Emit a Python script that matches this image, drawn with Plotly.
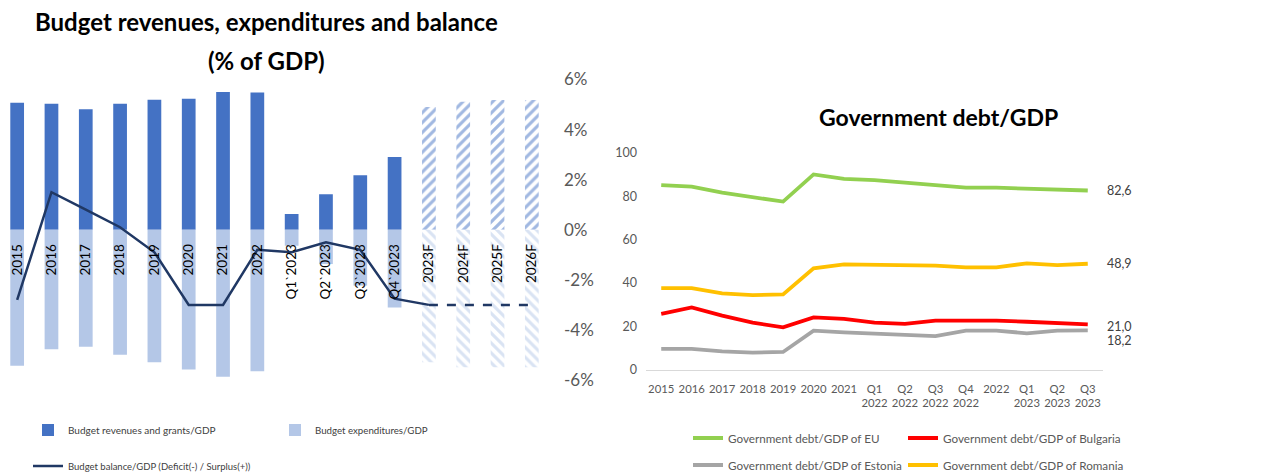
import plotly.graph_objects as go

# ---------------- Left chart data ----------------
budget_cats = ["2015", "2016", "2017", "2018", "2019", "2020", "2021", "2022",
               "Q1`2023", "Q2`2023", "Q3`2023", "Q4`2023"]
forecast_cats = ["2023F", "2024F", "2025F", "2026F"]
revenues = [38.9, 38.6, 36.9, 38.6, 39.8, 40.1, 42.2, 42.0, 4.8, 10.9, 16.7, 22.3]
expenditures = [-41.6, -36.6, -35.8, -38.3, -40.6, -42.8, -45.0, -43.3, -4.9, -10.5, -17.1, -23.8]
revenues_f = [37.6, 39.2, 39.7, 39.7]
expenditures_f = [-40.6, -42.1, -42.1, -42.1]
balance = [-2.8, 1.5, 0.8, 0.1, -0.9, -3.0, -3.0, -0.8, -0.9, -0.5, -0.8, -2.75, -3.0]
balance_f = [-3.0, -3.0, -3.0, -3.0]
pct_ticks = [-6, -4, -2, 0, 2, 4, 6]
pct_labels = ["-6%", "-4%", "-2%", "0%", "2%", "4%", "6%"]

# ---------------- Right chart data ----------------
debt_cats = ["2015", "2016", "2017", "2018", "2019", "2020", "2021",
             "Q1<br>2022", "Q2<br>2022", "Q3<br>2022", "Q4<br>2022", "2022",
             "Q1<br>2023", "Q2<br>2023", "Q3<br>2023"]
debt_eu = [85.1, 84.4, 81.6, 79.4, 77.5, 90.0, 88.0, 87.4, 86.3, 85.1, 83.9, 83.9, 83.4, 83.1, 82.6]
debt_bg = [25.8, 28.8, 25.0, 21.8, 19.6, 24.2, 23.5, 21.8, 21.2, 22.7, 22.7, 22.7, 22.2, 21.6, 21.0]
debt_ee = [9.7, 9.7, 8.6, 8.0, 8.3, 18.1, 17.3, 16.7, 16.4, 15.6, 18.1, 18.1, 16.9, 18.1, 18.2]
debt_ro = [37.7, 37.7, 35.3, 34.5, 34.8, 46.8, 48.6, 48.3, 48.3, 48.0, 47.2, 47.2, 49.1, 48.3, 48.9]

all_cats = budget_cats + forecast_cats
W, H = 1270, 474
FONT = "Lato"


def fmt(v):
    return f"{v:.1f}".replace(".", ",")


fig = go.Figure()

# Bars (hidden primary axis)
fig.add_trace(go.Bar(x=budget_cats, y=revenues, name="Budget revenues and grants/GDP",
                     marker=dict(color="#4472C4", line=dict(width=0)),
                     xaxis="x", yaxis="y", legend="legend"))
fig.add_trace(go.Bar(x=budget_cats, y=expenditures, name="Budget expenditures/GDP",
                     marker=dict(color="#B4C7E7", line=dict(width=0)),
                     xaxis="x", yaxis="y", legend="legend2"))
fig.add_trace(go.Bar(x=forecast_cats, y=revenues_f, showlegend=False,
                     marker=dict(color="white", line=dict(width=0),
                                 pattern=dict(shape="/", fgcolor="#4472C4", bgcolor="white",
                                              size=7, solidity=0.45)),
                     xaxis="x", yaxis="y"))
fig.add_trace(go.Bar(x=forecast_cats, y=expenditures_f, showlegend=False,
                     marker=dict(color="white", line=dict(width=0),
                                 pattern=dict(shape="\\", fgcolor="#B4C7E7", bgcolor="white",
                                              size=7, solidity=0.45)),
                     xaxis="x", yaxis="y"))

# Balance line (right axis)
fig.add_trace(go.Scatter(x=all_cats[:len(balance)], y=balance, mode="lines",
                         name="Budget balance/GDP (Deficit(-) / Surplus(+))",
                         line=dict(color="#203864", width=2.5),
                         xaxis="x", yaxis="y2", legend="legend3"))
fig.add_trace(go.Scatter(x=forecast_cats, y=balance_f, mode="lines", showlegend=False,
                         line=dict(color="#203864", width=2.5, dash="dash"),
                         xaxis="x", yaxis="y2"))

# Right chart lines
right_series = [
    (debt_eu, "Government debt/GDP of EU", "#92D050", "legend4", 0),
    (debt_bg, "Government debt/GDP of Bulgaria", "#FF0000", "legend5", -2),
    (debt_ee, "Government debt/GDP of Estonia", "#A5A5A5", "legend6", -10),
    (debt_ro, "Government debt/GDP of Romania", "#FFC000", "legend7", 0),
]
end_labels = []
for vals, name, color, lg, ysh in right_series:
    fig.add_trace(go.Scatter(x=debt_cats, y=vals, name=name, mode="lines",
                             line=dict(color=color, width=3.8),
                             xaxis="x3", yaxis="y3", legend=lg))
    end_labels.append(dict(x=debt_cats[-1], y=vals[-1], xref="x3", yref="y3",
                           text=fmt(vals[-1]), showarrow=False, xanchor="left",
                           yanchor="middle", xshift=17, yshift=ysh,
                           font=dict(family=FONT, size=12.5, color="#404040")))

# Geometry
ly0, ly1 = 1 - 380 / H, 1 - 79.5 / H
zero_paper = (ly0 + ly1) / 2


def leg(xpx, ypx, size, color):
    return dict(orientation="h", x=xpx / W, y=1 - ypx / H, xanchor="left", yanchor="middle",
                font=dict(family=FONT, size=size, color=color), bgcolor="rgba(0,0,0,0)")


fig.update_layout(
    width=W, height=H,
    margin=dict(l=0, r=0, t=0, b=0, autoexpand=False),
    paper_bgcolor="white", plot_bgcolor="white",
    font=dict(family=FONT, color="#404040"),
    barmode="relative", bargap=0.6,
    xaxis=dict(domain=[0, 549 / W], type="category", categoryorder="array",
               categoryarray=all_cats, range=[-0.5, len(all_cats) - 0.5],
               anchor="free", position=zero_paper,
               showline=False, showgrid=False, zeroline=False, automargin=False,
               ticks="outside", ticklen=8, tickcolor="rgba(0,0,0,0)",
               tickangle=-90, tickfont=dict(family=FONT, size=13.5, color="#000000")),
    yaxis=dict(domain=[ly0, ly1], range=[-46, 46], visible=False, anchor="x", automargin=False),
    yaxis2=dict(overlaying="y", side="right", anchor="x", range=[-6, 6], automargin=False,
                tickvals=pct_ticks, ticktext=pct_labels, showgrid=False, zeroline=False,
                showline=False, ticks="", ticklabelstandoff=14,
                tickfont=dict(family=FONT, size=17, color="#595959")),
    xaxis3=dict(domain=[646 / W, 1103 / W], anchor="y3", type="category", automargin=False,
                categoryorder="array", categoryarray=debt_cats,
                range=[-0.5, len(debt_cats) - 0.5],
                showline=True, linecolor="#D9D9D9", linewidth=1, showgrid=False,
                ticks="outside", ticklen=8, tickcolor="rgba(0,0,0,0)", tickangle=0,
                tickfont=dict(family=FONT, size=11.3, color="#595959")),
    yaxis3=dict(domain=[1 - 370 / H, 1 - 152.7 / H], anchor="x3", range=[0, 100],
                dtick=20, showgrid=False, zeroline=False, showline=False, automargin=False,
                ticks="", ticklabelstandoff=8,
                tickfont=dict(family=FONT, size=12.5, color="#595959")),
    legend=leg(28, 430, 10, "#404040"),
    legend2=leg(275, 430, 9.7, "#404040"),
    legend3=leg(28, 466, 9.5, "#404040"),
    legend4=leg(688, 438, 11.7, "#595959"),
    legend5=leg(903, 438, 11.7, "#595959"),
    legend6=leg(688, 465, 11.7, "#595959"),
    legend7=leg(903, 465, 11.7, "#595959"),
    annotations=[
        dict(text="<b>Budget revenues, expenditures and balance</b>", x=266 / W, y=1 - 22 / H,
             xref="paper", yref="paper", showarrow=False, xanchor="center", yanchor="middle",
             font=dict(family=FONT, size=24, color="#000000")),
        dict(text="<b>(% of GDP)</b>", x=266 / W, y=1 - 60 / H,
             xref="paper", yref="paper", showarrow=False, xanchor="center", yanchor="middle",
             font=dict(family=FONT, size=24, color="#000000")),
        dict(text="<b>Government debt/GDP</b>", x=938 / W, y=1 - 117 / H,
             xref="paper", yref="paper", showarrow=False, xanchor="center", yanchor="middle",
             font=dict(family=FONT, size=23, color="#000000")),
    ] + end_labels,
)

fig.write_html("out.html")
